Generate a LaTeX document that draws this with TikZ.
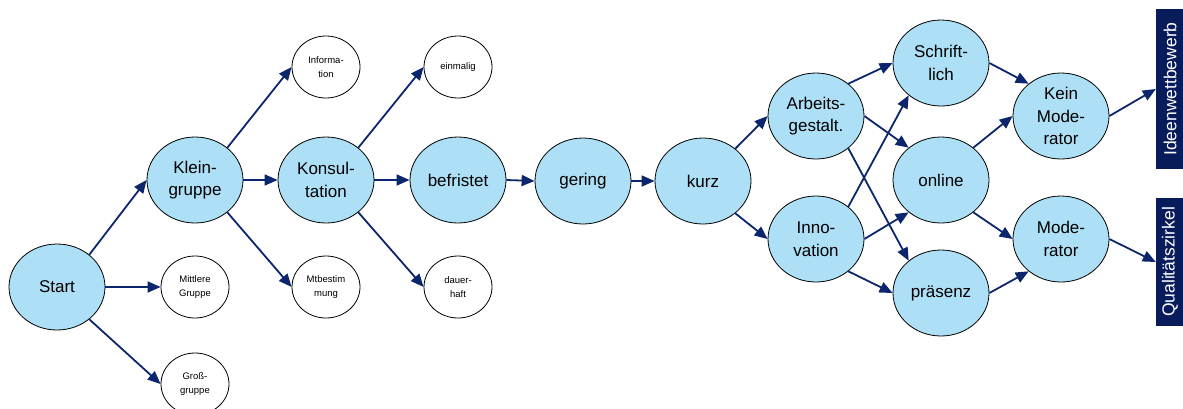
\documentclass[tikz,border=0pt]{standalone}
\usepackage{fontspec}
\setmainfont{Liberation Sans}
\usetikzlibrary{shapes.geometric,arrows.meta}
\definecolor{nodefill}{RGB}{173,224,246}
\definecolor{arrowblue}{RGB}{12,38,110}
\definecolor{boxnavy}{RGB}{8,28,92}
\begin{document}
\begin{tikzpicture}[x=1pt,y=-1pt,
  big/.style={ellipse,draw=black,line width=0.8pt,fill=nodefill,
    minimum width=96pt,minimum height=86pt,inner sep=0pt,align=center,
    font=\fontsize{17}{22.5}\selectfont},
  small/.style={ellipse,draw=black,line width=0.8pt,fill=white,
    minimum width=68pt,minimum height=62pt,inner sep=0pt,align=center,
    font=\fontsize{9.5}{13.5}\selectfont},
  result/.style={fill=boxnavy,text=white,rotate=90,inner sep=0pt,
    minimum height=28pt,font=\fontsize{17.5}{20}\selectfont},
  arr/.style={draw=arrowblue,line width=1.8pt,
    -{Triangle[length=13pt,width=11pt]}}]
\useasboundingbox (0,0) rectangle (1183,408);

% first level
\node[big]   (start)    at (57,287)  {Start};
\node[big]   (klein)    at (195,180) {Klein-\\gruppe};
\node[small] (mittlere) at (195,287) {Mittlere\\Gruppe};
\node[small] (gross)    at (195,384) {Groß-\\gruppe};

% second level
\node[small] (info)     at (326,67)  {Informa-\\tion};
\node[big]   (kons)     at (326,180) {Konsul-\\tation};
\node[small] (mtb)      at (326,287) {Mtbestim\\mung};

% third level
\node[small] (einmalig) at (458,67)  {einmalig};
\node[big]   (befr)     at (458,180) {befristet};
\node[small] (dauer)    at (458,287) {dauer-\\haft};

% chain
\node[big]   (gering)   at (583,181) {gering};
\node[big]   (kurz)     at (703,181) {kurz};

% goals
\node[big]   (arbeit)   at (816,116) {Arbeits-\\gestalt.};
\node[big]   (innov)    at (816,239) {Inno-\\vation};

% media
\node[big]   (schrift)  at (941,63)  {Schrift-\\lich};
\node[big]   (online)   at (941,180) {online};
\node[big]   (praes)    at (941,293) {präsenz};

% moderation
\node[big]   (kein)     at (1061,116) {Kein\\Mode-\\rator};
\node[big]   (mod)      at (1061,239) {Mode-\\rator};

% outcomes
\node[result,minimum width=160pt] (ideen) at (1170,89)  {Ideenwettbewerb};
\node[result,minimum width=128pt] (quali) at (1170,262) {Qualitätszirkel};

% connectors
\draw[arr] (start.45)   -- (klein.west);
\draw[arr] (start.east) -- (mittlere.west);
\draw[arr] (start.-45)  -- (gross.west);

\draw[arr] (klein.45)   -- (info.west);
\draw[arr] (klein.east) -- (kons.west);
\draw[arr] (klein.-45)  -- (mtb.west);

\draw[arr] (kons.45)    -- (einmalig.west);
\draw[arr] (kons.east)  -- (befr.west);
\draw[arr] (kons.-45)   -- (dauer.west);

\draw[arr] (befr.east)   -- (gering.west);
\draw[arr] (gering.east) -- (kurz.west);

\draw[arr] (kurz.45)  -- (arbeit.west);
\draw[arr] (kurz.-45) -- (innov.west);

\draw[arr] (arbeit.45)   -- (schrift.west);
\draw[arr] (arbeit.east) -- (online.135);
\draw[arr] (arbeit.-45)  -- (praes.135);

\draw[arr] (innov.45)   -- (schrift.-135);
\draw[arr] (innov.east) -- (online.-135);
\draw[arr] (innov.-45)  -- (praes.west);

\draw[arr] (schrift.east) -- (kein.135);
\draw[arr] (online.45)    -- (kein.west);
\draw[arr] (online.-45)   -- (mod.west);
\draw[arr] (praes.east)   -- (mod.-135);

\draw[arr] (kein.east) -- (ideen.north);
\draw[arr] (mod.east)  -- (quali.north);
\end{tikzpicture}
\end{document}
